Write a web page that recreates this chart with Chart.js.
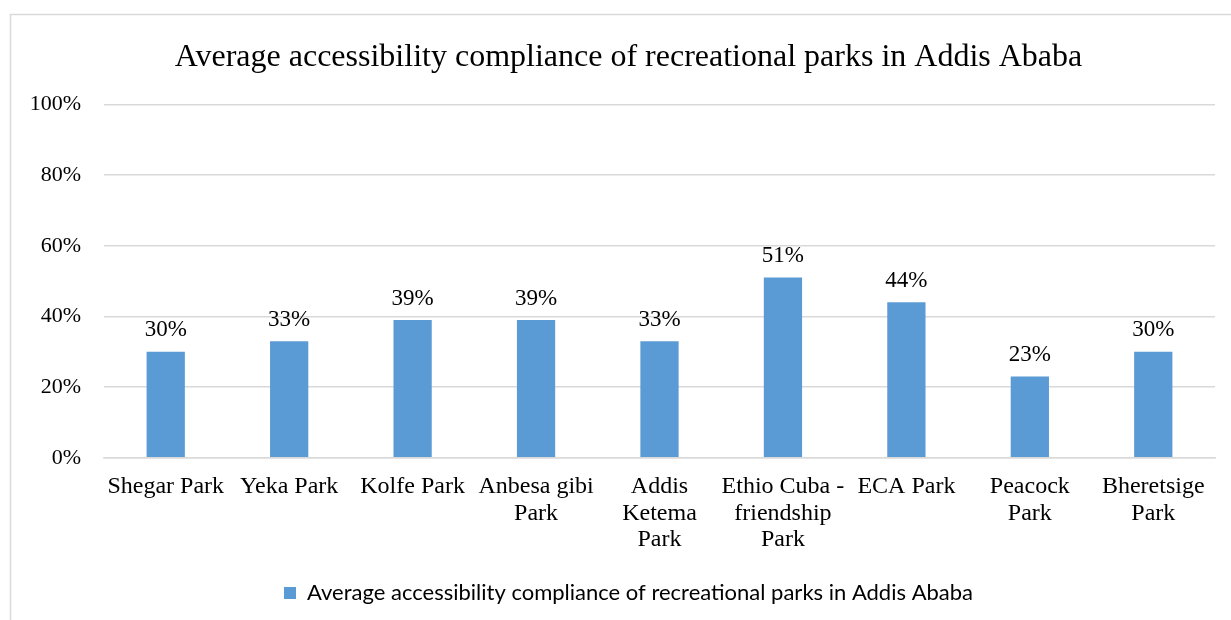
<!DOCTYPE html>
<html>
<head>
<meta charset="utf-8">
<script src="https://cdn.jsdelivr.net/npm/chart.js@4/dist/chart.umd.min.js"></script>
<style>
  html, body { margin: 0; padding: 0; background: #fff; }
  #wrap { width: 1231px; height: 620px; position: relative; }
</style>
</head>
<body>
<div id="wrap"><canvas id="parks"></canvas></div>
<script>
// park names, wrapped the way they appear under the bars
var parkLabels = [
  ["Shegar Park"],
  ["Yeka Park"],
  ["Kolfe Park"],
  ["Anbesa gibi", "Park"],
  ["Addis", "Ketema", "Park"],
  ["Ethio Cuba -", "friendship", "Park"],
  ["ECA Park"],
  ["Peacock", "Park"],
  ["Bheretsige", "Park"]
];
// compliance in percent
var compliance = [30, 33, 39, 39, 33, 51, 44, 23, 30];
var yTicks = [0, 20, 40, 60, 80, 100];

var seriesName = "Average accessibility compliance of recreational parks in Addis Ababa";
var serif = "'Liberation Serif', 'Times New Roman', serif";

// outer frame of the chart box
var framePlugin = {
  id: 'frame',
  beforeDraw: function(chart) {
    var ctx = chart.ctx;
    ctx.save();
    ctx.fillStyle = '#fff';
    ctx.fillRect(0, 0, chart.width, chart.height);
    ctx.strokeStyle = '#d9d9d9';
    ctx.lineWidth = 1.5;
    ctx.strokeRect(10.5, 14.5, 1400, 800);
    ctx.restore();
  }
};

// the left padding keeps title and legend centred like the original box;
// let the y labels spill into that padding instead of being clipped
var yLabelRoom = {
  id: 'yLabelRoom',
  afterLayout: function(chart) {
    chart.scales.y.left = 0;
  }
};

// value labels on top of each bar
var valueLabels = {
  id: 'valueLabels',
  afterDatasetsDraw: function(chart) {
    var ctx = chart.ctx;
    var meta = chart.getDatasetMeta(0);
    ctx.save();
    ctx.font = '23px ' + serif;
    ctx.fillStyle = '#000';
    ctx.textAlign = 'center';
    ctx.textBaseline = 'bottom';
    meta.data.forEach(function(bar, i) {
      ctx.fillText(compliance[i] + '%', bar.x, bar.y - 10);
    });
    ctx.restore();
  }
};

new Chart(document.getElementById('parks'), {
  type: 'bar',
  data: {
    labels: parkLabels,
    datasets: [{
      label: seriesName,
      data: compliance,
      backgroundColor: '#5b9bd5',
      borderWidth: 0,
      categoryPercentage: 1,
      barPercentage: 0.31
    }]
  },
  options: {
    responsive: true,
    maintainAspectRatio: false,
    animation: false,
    layout: { padding: { top: 22, right: 16, bottom: 6, left: 42 } },
    plugins: {
      title: {
        display: true,
        text: seriesName,
        color: '#000',
        font: { family: serif, size: 32, weight: 'normal' },
        padding: { top: 16, bottom: 28 }
      },
      legend: {
        position: 'bottom',
        labels: {
          color: '#000',
          font: { family: "Lato, 'Liberation Sans', sans-serif", size: 22 },
          boxWidth: 12,
          boxHeight: 12,
          padding: 13
        }
      },
      tooltip: { enabled: false }
    },
    scales: {
      x: {
        grid: { display: false, drawTicks: false },
        border: { display: true, color: '#d9d9d9', width: 1.5 },
        ticks: {
          color: '#000',
          font: { family: serif, size: 24, lineHeight: 1.1 },
          padding: 16,
          maxRotation: 0,
          autoSkip: false
        }
      },
      y: {
        min: 0,
        max: 100,
        afterFit: function(scale) { scale.width = 62; },
        afterBuildTicks: function(scale) {
          scale.ticks = yTicks.map(function(v) { return { value: v }; });
        },
        grid: { color: '#d9d9d9', lineWidth: 1.5, drawTicks: false },
        border: { display: false },
        ticks: {
          color: '#000',
          font: { family: serif, size: 22 },
          padding: 23,
          callback: function(v) { return v + '%'; }
        }
      }
    }
  },
  plugins: [framePlugin, yLabelRoom, valueLabels]
});
</script>
</body>
</html>
